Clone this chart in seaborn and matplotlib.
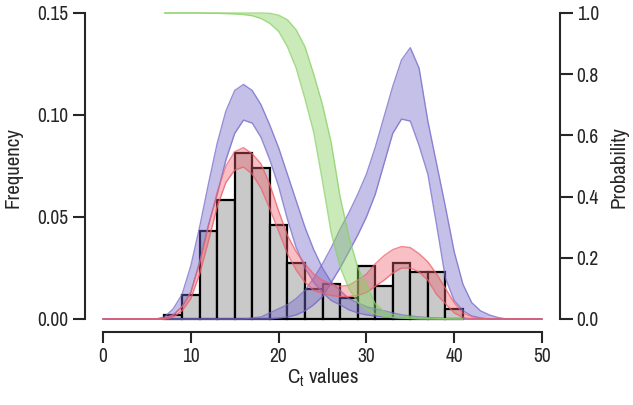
import numpy as np
import seaborn as sns
import matplotlib.pyplot as plt
import matplotlib.font_manager as fm

sns.set_style("ticks")
narrow = [f.name for f in fm.fontManager.ttflist if "Narrow" in f.name]
plt.rcParams["font.family"] = (narrow[:1] or []) + ["Liberation Sans", "DejaVu Sans"]

# histogram (bin edges 7..41, width 2), frequency per bin
bin_edges = list(range(7, 42, 2))
bar_heights = [0.002, 0.012, 0.043, 0.0585, 0.0815, 0.0742, 0.046, 0.0273, 0.0148,
               0.0173, 0.0104, 0.026, 0.0162, 0.0273, 0.0228, 0.0232, 0.0047]

# density bands read at integer Ct values 0..50
ct = list(range(0, 51))
blue1_hi = [0] * 7 + [0.001, 0.005, 0.012, 0.026, 0.045, 0.066, 0.086, 0.102, 0.112, 0.115,
                      0.112, 0.105, 0.095, 0.084, 0.071, 0.058, 0.045, 0.034, 0.025, 0.018,
                      0.014, 0.010, 0.008, 0.006, 0.005, 0.004, 0.003, 0.002, 0.0015, 0.001,
                      0.0007, 0.0004, 0.0002] + [0] * 11
blue1_lo = [0] * 8 + [0.002, 0.006, 0.013, 0.028, 0.046, 0.061, 0.078, 0.091, 0.0975,
                      0.096, 0.089, 0.078, 0.065, 0.049, 0.035, 0.025, 0.018, 0.013, 0.009,
                      0.007, 0.0045, 0.003, 0.002, 0.0015, 0.001, 0.0007, 0.0004, 0.0002] + [0] * 15
blue2_hi = [0] * 17 + [0.0005, 0.001, 0.003, 0.005, 0.007, 0.010, 0.014, 0.020, 0.027,
                       0.035, 0.044, 0.052, 0.061, 0.071, 0.084, 0.099, 0.114, 0.127, 0.133,
                       0.123, 0.097, 0.076, 0.055, 0.033, 0.017, 0.008, 0.004, 0.002,
                       0.0007] + [0] * 5
blue2_lo = [0] * 20 + [0.0005, 0.001, 0.002, 0.004, 0.007, 0.011, 0.018, 0.025, 0.033,
                       0.041, 0.050, 0.061, 0.076, 0.091, 0.098, 0.097, 0.085, 0.071, 0.046,
                       0.020, 0.009, 0.004, 0.0015, 0.0005] + [0] * 7
red_hi = [0] * 7 + [0.0005, 0.002, 0.006, 0.013, 0.027, 0.045, 0.062, 0.075, 0.082, 0.084,
                    0.081, 0.076, 0.066, 0.053, 0.041, 0.033, 0.027, 0.022, 0.019, 0.017,
                    0.016, 0.0165, 0.019, 0.022, 0.027, 0.031, 0.034, 0.0355, 0.035, 0.032,
                    0.028, 0.022, 0.015, 0.008, 0.003, 0.001, 0.0003] + [0] * 7
red_lo = [0] * 8 + [0.001, 0.004, 0.010, 0.022, 0.038, 0.055, 0.067, 0.073, 0.0745, 0.071,
                    0.064, 0.054, 0.043, 0.032, 0.024, 0.018, 0.014, 0.0125, 0.0115, 0.011,
                    0.011, 0.0115, 0.013, 0.016, 0.019, 0.0225, 0.025, 0.025, 0.023, 0.019,
                    0.012, 0.0075, 0.003, 0.0008] + [0] * 9

# probability band (right axis), Ct 7..41
ct_prob = list(range(7, 42))
green_lo = [1.0, 1.0, 1.0, 1.0, 1.0, 0.999, 0.999, 0.998, 0.997, 0.995, 0.991, 0.982, 0.966,
            0.94, 0.89, 0.82, 0.72, 0.61, 0.45, 0.28, 0.17, 0.10, 0.055, 0.03, 0.016, 0.009,
            0.005, 0.003, 0.002, 0.001, 0.0005, 0, 0, 0, 0]
green_hi = [1.0] * 12 + [0.999, 0.993, 0.978, 0.945, 0.89, 0.80, 0.70, 0.575, 0.40, 0.27,
                         0.17, 0.11, 0.05, 0.025, 0.015, 0.010, 0.007, 0.005, 0.003, 0.002,
                         0.001, 0.0005, 0]

BLUE = "#7469c9"
RED = "#ee5f6c"
GREEN = "#8ad166"


def band(ax, x, lo, hi, color, alpha=0.45, z=3):
    ax.fill_between(x, lo, hi, color=color, alpha=alpha, lw=0, zorder=z)
    for y in (lo, hi):
        sns.lineplot(x=x, y=y, ax=ax, color=color, lw=1.0, alpha=0.75,
                     estimator=None, sort=False, zorder=z)


fig = plt.figure(figsize=(6.33, 4.05), dpi=100)
ax = fig.add_axes([85 / 633, 1 - 325 / 405, 475 / 633, 315 / 405])

mids = [(a + b) / 2 for a, b in zip(bin_edges[:-1], bin_edges[1:])]
sns.histplot(x=mids, weights=bar_heights, bins=bin_edges, ax=ax, stat="count",
             color="#c9c9c9", edgecolor="black", linewidth=1.6, alpha=1, zorder=1)

band(ax, ct, blue1_lo, blue1_hi, BLUE, alpha=0.42)
band(ax, ct, blue2_lo, blue2_hi, BLUE, alpha=0.42)
band(ax, ct, red_lo, red_hi, RED, alpha=0.4, z=4)

ax.set_xlim(-2.05, 52.05)
ax.set_ylim(-6 / 2040, 0.15 + 3 / 2040)
ax.set_xticks([0, 10, 20, 30, 40, 50])
ax.set_yticks([0, 0.05, 0.10, 0.15])
ax.set_yticklabels(["0.00", "0.05", "0.10", "0.15"])
for s in ("top", "right"):
    ax.spines[s].set_visible(False)
ax.spines["left"].set_bounds(0, 0.15)
ax.spines["bottom"].set_bounds(0, 50)
ax.spines["bottom"].set_position(("outward", 5))
for s in ("left", "bottom"):
    ax.spines[s].set_linewidth(1.5)
ax.tick_params(axis="y", direction="out", length=9, width=1.5, pad=3, labelsize=14)
ax.tick_params(axis="x", direction="out", length=8, width=1.5, pad=3, labelsize=14)
ax.set_xlabel(r"C$_\mathregular{t}$ values", fontsize=15)
ax.set_ylabel("Frequency", fontsize=15)
ax.xaxis.set_label_coords(0.5, -0.133)
ax.yaxis.set_label_coords(-0.132, 0.5)

ax2 = ax.twinx()
band(ax2, ct_prob, green_lo, green_hi, GREEN, alpha=0.45, z=5)
ax2.set_ylim(-6 / 306, 1 + 3 / 306)
ax2.set_yticks([0, 0.2, 0.4, 0.6, 0.8, 1.0])
ax2.set_yticklabels(["0.0", "0.2", "0.4", "0.6", "0.8", "1.0"])
for s in ("top", "left", "bottom"):
    ax2.spines[s].set_visible(False)
ax2.spines["right"].set_bounds(0, 1)
ax2.spines["right"].set_linewidth(1.5)
ax2.tick_params(axis="y", direction="out", length=9, width=1.5, pad=3, labelsize=14)
ax2.set_ylabel("Probability", fontsize=15)
ax2.yaxis.set_label_coords(1.105, 0.5)

fig.savefig("out.png", dpi=100)
